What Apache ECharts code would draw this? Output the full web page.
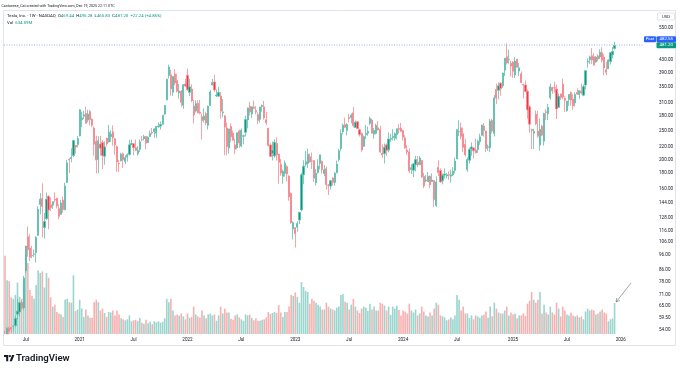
<!DOCTYPE html>
<html>
<head>
<meta charset="utf-8">
<script src="https://cdn.jsdelivr.net/npm/echarts@6/dist/echarts.min.js"></script>
<style>
html,body{margin:0;padding:0;background:#ffffff;}
#chart{width:680px;height:368px;}
</style>
</head>
<body>
<div id="chart"></div>
<script>
// ---- weekly OHLC rows [open, high, low, close], weeks starting Mon 2020-04-27 ----
const ohlc2020 = [
[49.2,53.7,46.1,46.8],[47.0,55.2,45.4,54.6],[54.6,55.4,50.5,53.6],[55.0,55.2,53.0,54.4],[55.6,56.0,53.3,55.7],
[55.9,60.2,55.2,59.0],[61.0,68.5,58.5,62.4],[62.0,67.0,60.0,66.6],[66.7,67.7,63.0,63.9],[64.0,81.9,63.0,80.5],
[85.1,103.2,83.6,102.9],[110.6,119.7,94.8,100.1],[101.3,112.6,91.7,94.5],[95.7,103.1,93.7,95.4],[96.6,100.3,94.7,96.8],
[97.9,111.1,90.7,110.0],[111.8,139.7,111.5,136.7],[141.7,154.5,131.4,147.6],[148.2,166.7,110.0,139.4],[118.7,132.7,109.0,124.2],
[127.0,155.3,126.0,147.4],[151.0,151.9,117.1,135.8],[141.5,149.6,134.7,138.4],[141.1,145.0,136.9,144.7],[147.3,155.3,144.0,146.6],
[148.7,149.0,137.5,140.2],[137.2,141.9,126.4,129.3],[131.3,146.7,130.8,143.3],[146.5,150.8,132.7,136.2],[136.3,167.5,135.3,163.2],
[167.8,199.6,167.0,195.3],[200.7,202.6,180.4,199.7],[201.6,218.1,196.0,203.3],[206.3,231.9,203.5,231.7],[223.0,223.3,209.5,220.6],
[224.8,239.6,219.7,235.2]
];
const ohlc2021 = [
[239.8,294.8,239.1,293.3],[271.5,289.3,256.5,275.4],[279.5,291.0,273.0,282.2],[285.0,300.1,264.0,264.5],[271.0,293.5,266.6,284.1],
[289.3,292.6,260.3,272.0],[272.7,274.8,256.7,260.4],[254.7,258.3,206.3,225.2],[230.0,240.4,179.8,199.3],[200.0,239.3,180.0,231.2],
[225.5,240.0,206.0,218.3],[228.2,232.4,186.0,206.2],[205.3,230.0,192.3,220.6],[235.7,236.9,221.6,225.7],[228.9,261.3,228.3,246.6],
[239.0,250.3,228.7,243.1],[247.6,260.3,222.8,236.5],[234.7,236.1,207.5,224.1],[220.7,223.1,182.3,196.6],[194.0,199.4,181.8,193.6],
[198.2,211.0,197.3,208.4],[209.3,211.2,187.7,199.7],[197.0,206.8,193.3,203.3],[204.0,210.0,197.0,207.8],[208.2,232.7,206.2,224.0],
[224.3,233.3,223.6,226.3],[226.0,226.7,206.7,219.0],[219.1,233.3,213.3,214.7],[209.3,221.6,206.2,214.5],[216.6,233.3,212.0,229.1],
[233.3,240.0,230.3,233.0],[235.0,242.0,232.0,239.1],[238.9,239.0,216.2,226.8],[228.0,239.5,227.3,237.3],[238.7,250.0,238.3,244.5],
[246.7,255.0,242.4,245.4],[248.3,254.6,236.7,253.2],[245.0,258.3,236.1,258.1],[257.5,266.3,255.2,258.4],[258.8,268.0,252.0,261.8],
[262.7,281.4,261.0,281.0],[283.9,303.3,282.0,303.2],[316.8,371.7,315.0,371.3],[381.7,414.5,373.0,407.4],[383.3,399.0,326.8,344.5],
[335.4,379.6,326.7,379.0],[386.5,400.4,354.0,360.6],[367.0,387.0,335.3,338.3],[334.0,357.7,319.7,339.0],[338.1,341.4,300.2,310.9],
[304.0,357.6,295.3,355.7],[357.3,372.3,349.3,352.3]
];
const ohlc2022 = [
[382.6,402.7,339.0,342.3],[335.4,371.9,326.2,349.9],[344.0,356.9,311.2,314.6],[301.7,317.1,264.0,282.1],[290.9,315.7,287.3,307.8],
[307.9,315.9,285.2,286.7],[287.7,316.7,283.0,285.7],[278.0,285.0,233.3,270.0],[271.7,296.6,266.0,279.4],[285.2,288.7,260.4,265.1],
[260.3,302.6,252.0,301.8],[303.3,342.0,301.7,336.9],[355.0,371.6,353.3,361.5],[363.1,384.3,336.6,341.8],[326.7,343.3,324.0,328.3],
[325.7,349.0,324.7,335.0],[326.0,336.2,273.9,290.3],[286.9,318.5,276.7,288.6],[279.7,281.9,206.9,256.5],[255.0,265.8,206.9,221.3],
[218.7,253.5,209.4,253.2],[257.9,264.2,228.4,238.3],[244.7,249.9,231.6,232.2],[223.9,235.1,208.7,216.8],[219.3,246.1,216.4,245.7],
[249.4,252.1,218.9,227.3],[222.0,254.4,220.0,250.8],[239.5,242.6,225.1,240.1],[246.7,280.8,238.9,272.2],[271.3,298.3,254.0,297.2],
[301.3,311.9,281.0,288.2],[284.0,300.3,275.0,300.0],[299.0,314.7,294.3,296.7],[291.9,302.0,283.0,288.1],[282.8,287.7,262.5,270.2],
[272.7,299.8,265.7,299.7],[300.7,305.5,289.3,303.4],[300.1,313.8,271.8,275.3],[271.8,288.5,260.6,265.3],[254.5,255.2,221.2,223.1],
[223.9,226.9,204.2,205.0],[210.0,229.8,198.6,214.4],[205.8,233.8,203.0,228.5],[226.2,237.4,198.6,207.5],[208.7,208.9,166.2,196.0],
[192.8,200.8,176.6,180.2],[175.9,185.2,166.2,182.9],[180.0,198.9,175.3,194.9],[189.4,191.3,169.1,179.1],[176.1,177.4,145.8,150.2],
[154.0,155.3,122.3,123.2],[117.5,124.5,108.2,123.2]
];
const ohlc2023 = [
[118.5,118.8,101.8,113.1],[119.0,124.6,114.9,122.4],[125.7,133.5,121.9,133.4],[135.9,180.7,134.3,177.9],[178.0,199.0,165.6,190.0],
[193.0,214.0,189.4,196.9],[194.4,217.6,187.6,208.3],[204.4,209.7,194.9,196.9],[198.0,211.2,186.0,197.8],[198.5,198.6,168.4,173.4],
[167.5,186.2,163.9,180.1],[180.8,200.7,180.0,190.4],[194.4,207.8,185.4,207.5],[197.3,198.7,179.7,185.1],[179.9,191.6,176.1,185.0],
[186.3,189.7,158.8,165.1],[164.7,165.7,152.4,164.3],[163.2,170.8,158.8,170.1],[173.7,174.6,163.7,168.0],[167.7,181.9,163.8,180.1],
[180.7,198.6,180.3,193.2],[200.1,217.3,196.8,214.0],[217.8,252.4,213.1,244.4],[247.9,263.6,243.0,260.5],[261.5,276.0,254.9,256.6],
[250.1,264.5,240.6,261.8],[276.5,284.3,266.5,274.4],[276.5,285.3,264.6,281.4],[286.6,299.3,255.8,260.0],[255.9,269.9,255.6,266.4],
[267.5,269.1,253.5,253.9],[251.5,253.7,238.8,242.7],[244.8,246.1,212.4,215.5],[221.5,240.8,220.6,238.6],[242.6,261.2,234.0,245.0],
[245.0,258.0,240.0,248.5],[264.3,278.4,260.6,274.4],[271.2,273.9,244.5,244.9],[243.4,254.8,234.6,250.2],[244.8,263.6,242.6,260.5],
[255.3,268.9,250.5,251.1],[252.3,259.4,210.4,212.0],[210.0,224.8,202.5,207.3],[209.3,226.4,194.1,220.0],[224.0,226.3,205.7,214.7],
[215.6,246.7,211.6,234.3],[234.0,244.0,229.2,235.5],[236.9,252.8,231.9,238.8],[235.8,246.7,231.3,243.8],[242.7,254.0,233.5,253.5],
[253.8,262.5,244.4,252.5],[254.5,265.1,247.4,248.5]
];
const ohlc2024 = [
[250.1,251.3,231.7,237.5],[236.1,241.3,217.2,218.9],[215.1,223.5,207.6,212.2],[212.3,217.8,180.1,183.3],[185.6,193.0,179.0,187.9],
[184.3,194.1,175.0,193.6],[192.1,205.6,182.6,200.0],[196.1,205.6,188.8,192.0],[192.3,205.6,192.0,202.6],[198.7,198.7,173.7,175.3],
[175.5,180.5,160.5,163.6],[170.0,177.7,168.1,170.8],[168.8,181.9,168.5,175.8],[176.2,176.8,160.5,164.9],[169.1,180.0,168.3,171.1],
[170.2,170.7,138.8,147.1],[140.6,176.0,138.8,168.3],[188.4,198.9,176.2,181.2],[183.8,187.0,167.5,168.5],[170.0,179.6,165.3,177.5],
[177.6,186.9,172.8,179.2],[176.4,180.3,173.1,178.1],[178.1,182.6,171.2,177.5],[176.1,185.1,167.4,178.0],[177.9,188.8,176.4,183.0],
[184.2,203.2,180.0,197.9],[201.0,252.4,200.9,251.5],[247.7,271.0,239.6,248.2],[255.3,266.0,233.7,239.2],[244.2,255.8,212.1,219.8],
[224.9,234.7,205.0,207.7],[185.2,203.5,182.0,200.0],[199.0,219.5,194.1,216.1],[217.1,228.2,206.1,220.3],[218.8,219.1,201.8,214.1],
[215.3,235.0,209.4,210.7],[216.2,232.7,210.6,230.3],[229.3,244.2,224.0,238.3],[241.2,261.8,240.0,260.5],[259.0,264.9,238.5,250.1],
[249.0,249.8,212.1,217.8],[220.1,224.7,213.9,220.7],[218.9,273.5,212.1,269.2],[270.0,273.5,244.4,249.0],[244.6,328.7,238.9,321.2],
[342.7,358.6,306.3,320.7],[340.7,361.9,317.6,352.6],[360.1,361.9,326.6,345.2],[352.4,389.5,347.2,389.2],[397.6,436.3,380.5,436.2],
[441.1,488.5,415.4,421.1],[431.0,465.3,418.0,431.7],[419.4,427.0,379.0,410.4]
];
const ohlc2025 = [
[423.2,426.4,375.0,394.7],[383.2,439.7,374.4,426.5],[432.6,433.2,406.1,406.6],[394.8,420.0,380.0,404.6],[386.7,394.0,360.3,361.6],
[356.2,359.1,320.0,355.8],[355.0,367.3,336.0,337.8],[338.1,342.4,273.6,293.0],[300.3,303.9,246.0,262.7],[252.5,253.4,217.0,250.0],
[245.1,253.4,217.0,248.7],[283.6,291.9,260.6,263.6],[249.3,290.9,236.5,239.4],[223.8,274.7,214.3,252.3],[258.4,261.5,239.3,241.4],
[230.3,286.9,222.8,285.0],[289.0,294.9,270.8,287.2],[284.6,307.0,271.0,298.3],[321.8,358.8,317.2,350.0],[347.9,350.0,331.3,339.3],
[347.4,363.8,334.4,346.5],[343.5,355.4,273.2,295.1],[298.8,332.6,298.4,325.3],[331.3,332.0,316.0,322.2],[357.0,373.0,318.0,323.6],
[319.9,325.6,288.8,315.4],[291.4,314.1,288.8,313.5],[317.7,330.9,302.4,329.7],[334.4,338.0,302.2,316.1],[318.4,330.5,293.2,302.6],
[309.1,335.2,300.4,329.7],[335.0,346.0,329.5,330.6],[329.6,340.6,319.0,340.0],[338.9,358.9,330.0,333.9],[328.2,355.9,325.6,350.8],
[354.6,396.7,342.8,395.9],[423.1,435.0,405.4,426.1],[431.1,445.0,416.6,440.4],[444.3,470.8,416.6,429.8],[440.8,453.5,411.5,413.5],
[423.5,443.1,421.5,439.3],[443.9,449.4,425.6,433.7],[440.0,467.0,432.5,456.6],[454.5,474.1,421.9,429.5],[439.6,449.7,382.8,404.4],
[398.7,424.0,382.8,391.1],[402.0,432.9,401.8,430.2],[425.0,457.5,415.0,455.0],[448.0,475.0,435.0,458.96],[469.44,495.28,465.83,481.20]
];

// ---- weekly volume (millions of shares) ----
const vol2020 = [1600,1100,1080,750,720,800,1050,760,720,1100,1650,1450,900,780,720,1000,1300,1250,1280,950,1250,1150,750,560,600,450,420,400,350,700,720,650,640,1200,470,500];
const vol2021 = [700,520,350,500,380,330,330,650,700,650,480,520,430,350,450,440,480,380,480,400,320,300,280,300,380,260,280,290,260,330,230,210,290,220,250,200,260,240,260,230,250,320,720,650,720,480,380,400,380,420,360,300];
const vol2022 = [420,330,350,560,400,360,330,480,380,320,400,420,380,400,270,380,560,420,520,440,440,310,290,380,400,340,300,270,400,380,400,330,280,320,270,270,290,300,340,450,410,430,450,430,590,440,350,450,450,560,800,780];
const vol2023 = [850,760,640,1060,960,880,860,620,720,680,640,600,560,500,500,640,560,520,500,480,540,560,800,820,660,640,500,600,720,560,480,430,520,560,540,470,620,500,560,480,480,640,620,580,480,560,390,560,520,580,490,380];
const vol2024 = [480,460,420,620,480,440,500,380,420,560,460,380,360,440,380,520,640,600,380,360,340,280,300,340,300,380,800,700,480,560,420,420,330,380,300,380,360,330,380,400,460,330,560,360,640,520,440,420,420,480,560,380,440];
const vol2025 = [400,420,320,380,380,420,370,620,680,860,700,640,700,860,420,600,440,400,560,440,400,640,520,360,560,480,400,380,440,380,360,380,340,360,300,460,520,480,500,480,400,420,460,500,440,420,260,300,320,634.09];

// ---- axis tick labels ----
const xTickDates = ['2020-07-06','2021-01-04','2021-07-05','2022-01-03','2022-07-04','2023-01-02','2023-07-03','2024-01-01','2024-07-01','2025-01-06','2025-07-07','2026-01-05'];
const xTickTexts = ['Jul','2021','Jul','2022','Jul','2023','Jul','2024','Jul','2025','Jul','2026'];
const yTickValues = [550,430,390,350,310,280,250,220,200,180,160,144,128,116,106,96,86,78,71,65,59.5,54];
const postPrice = 482.55;

// ---- build ----
const FONT = 'Roboto, "Noto Sans", "DejaVu Sans", sans-serif';
const UP = '#089981', DOWN = '#f23645';
const UP_WICK = '#5fbfae', DOWN_WICK = '#f58a91';
const UP_VOL = '#9ad5ce', DOWN_VOL = '#f8b1b0';
const TXT = '#131722';

const rows = [].concat(ohlc2020, ohlc2021, ohlc2022, ohlc2023, ohlc2024, ohlc2025);
const volumes = [].concat(vol2020, vol2021, vol2022, vol2023, vol2024, vol2025);
const SLOTS = 314;
const startUTC = Date.UTC(2020, 3, 27);
const categories = [];
for (let i = 0; i < SLOTS; i++) {
  categories.push(new Date(startUTC + i * 7 * 86400000).toISOString().slice(0, 10));
}
const tickMap = {};
xTickDates.forEach((d, i) => { tickMap[d] = xTickTexts[i]; });

const candleData = rows.map(r => [r[0], r[3], r[2], r[1]]);
const volData = volumes.map((v, i) => ({
  value: v,
  itemStyle: { color: (rows[i] && rows[i][3] >= rows[i][0]) ? UP_VOL : DOWN_VOL }
}));

const chart = echarts.init(document.getElementById('chart'), null, { renderer: 'canvas' });
const GL = 4, GR = 25, GT = 10, GB = 34;
chart.setOption({
  animation: false,
  backgroundColor: '#ffffff',
  grid: [
    { left: GL, right: GR, top: GT, bottom: GB },
    { left: GL, right: GR, top: 234, bottom: GB }
  ],
  xAxis: [
    { type: 'category', data: categories, gridIndex: 0, boundaryGap: true, z: 20,
      axisLine: { show: false }, axisTick: { show: false }, splitLine: { show: false },
      axisLabel: { show: true, interval: (i, v) => tickMap[v] !== undefined,
        formatter: v => tickMap[v] || '', fontSize: 4.6, color: TXT, margin: 3.5, fontFamily: FONT } },
    { type: 'category', data: categories, gridIndex: 1, boundaryGap: true,
      axisLine: { show: false }, axisTick: { show: false }, axisLabel: { show: false }, splitLine: { show: false } }
  ],
  yAxis: [
    { type: 'log', logBase: 10, min: 52.36, max: 631.5, position: 'right', gridIndex: 0,
      axisLine: { show: false }, axisTick: { show: false }, axisLabel: { show: false }, splitLine: { show: false } },
    { type: 'value', min: 0, max: 2045, gridIndex: 1, show: false, splitLine: { show: false } }
  ],
  series: [
    { type: 'bar', xAxisIndex: 1, yAxisIndex: 1, data: volData, barCategoryGap: '22%', z: 1, silent: true },
    { type: 'candlestick', xAxisIndex: 0, yAxisIndex: 0, data: candleData, barWidth: 1.7, z: 3, silent: true, clip: true,
      itemStyle: { color: UP, color0: DOWN, borderColor: UP_WICK, borderColor0: DOWN_WICK, borderWidth: 0.8 } }
  ]
});

// ---- overlay text & annotations ----
function txt(x, y, text, size, fill, align, extra) {
  return Object.assign({
    type: 'text', x: x, y: y, silent: true, z: 10,
    style: { text: text, fontSize: size, fontFamily: FONT, fill: fill,
      align: align || 'left', verticalAlign: 'middle',
      textAlign: align || 'left', textVerticalAlign: 'middle' }
  }, extra || {});
}
const yPix = v => chart.convertToPixel({ yAxisIndex: 0 }, v);
const g = [];
// mask candle overflow below the price pane
g.push({ type: 'rect', silent: true, z: 8, shape: { x: 3, y: 334.2, width: 653, height: 28 }, style: { fill: '#ffffff' } });
// panel border
g.push({ type: 'rect', shape: { x: 3.5, y: 10.5, width: 672, height: 335 }, silent: true, z: 9,
  style: { fill: 'none', stroke: '#e0e3eb', lineWidth: 1 } });
// post-market price line (dotted)
const yPostLine = yPix(postPrice);
g.push({ type: 'line', silent: true, z: 6, shape: { x1: GL, y1: yPostLine, x2: 644, y2: yPostLine },
  style: { stroke: '#8fb3f5', lineWidth: 1, lineDash: [1, 1.5] } });
// price scale labels
yTickValues.forEach(v => g.push(txt(659, yPix(v), v.toFixed(2), 4.6, TXT, 'left')));
// USD box
g.push({ type: 'rect', shape: { x: 657.5, y: 13, width: 17, height: 7, r: 1 }, silent: true, z: 10,
  style: { fill: '#ffffff', stroke: '#d1d4dc', lineWidth: 0.6 } });
g.push(txt(666, 16.6, 'USD', 4.2, TXT, 'center', { z: 11 }));
// last / post labels
const last = rows[rows.length - 1];
const prevClose = rows[rows.length - 2][3];
const yLast = yPix(last[3]);
g.push({ type: 'rect', shape: { x: 656.5, y: yLast - 3, width: 19.5, height: 6, r: 1 }, silent: true, z: 10, style: { fill: UP } });
g.push(txt(666.2, yLast, last[3].toFixed(2), 4.4, '#ffffff', 'center', { z: 11 }));
const yPost = yLast - 6.2;
g.push({ type: 'rect', shape: { x: 656.5, y: yPost - 3, width: 19.5, height: 6, r: 1 }, silent: true, z: 10, style: { fill: '#2962ff' } });
g.push(txt(666.2, yPost, postPrice.toFixed(2), 4.4, '#ffffff', 'center', { z: 11 }));
g.push({ type: 'rect', shape: { x: 644, y: yPost - 3, width: 12, height: 6, r: 1 }, silent: true, z: 10, style: { fill: '#2962ff' } });
g.push(txt(650, yPost, 'Post', 4.2, '#ffffff', 'center', { z: 11 }));
// header lines
g.push(txt(1.5, 5.8, 'Cantonese_Cat created with TradingView.com, Dec 19, 2025 22:11 UTC', 3.6, TXT, 'left'));
const chg = last[3] - prevClose;
const pct = chg / prevClose * 100;
const hdr = '{t|Tesla, Inc. · 1W · NASDAQ}  {k|O}{v|' + last[0].toFixed(2) + '}  {k|H}{v|' + last[1].toFixed(2) +
  '}  {k|L}{v|' + last[2].toFixed(2) + '}  {k|C}{v|' + last[3].toFixed(2) + '}  {v|+' + chg.toFixed(2) + ' (+' + pct.toFixed(2) + '%)}';
g.push({ type: 'text', x: 7, y: 15.8, silent: true, z: 10,
  style: { text: hdr, fontSize: 4.3, fontFamily: FONT, fill: TXT, verticalAlign: 'middle', textVerticalAlign: 'middle',
    rich: { t: { fill: TXT, color: TXT, fontSize: 4.3, fontFamily: FONT },
            k: { fill: TXT, color: TXT, fontSize: 4.3, fontFamily: FONT },
            v: { fill: UP, color: UP, fontSize: 4.3, fontFamily: FONT } } } });
const lastVol = volumes[volumes.length - 1];
g.push({ type: 'text', x: 7, y: 22.8, silent: true, z: 10,
  style: { text: '{k|Vol}  {v|' + lastVol.toFixed(2) + 'M}', fontSize: 4.3, fontFamily: FONT, fill: TXT,
    verticalAlign: 'middle', textVerticalAlign: 'middle',
    rich: { k: { fill: TXT, color: TXT, fontSize: 4.3, fontFamily: FONT },
            v: { fill: UP, color: UP, fontSize: 4.3, fontFamily: FONT } } } });
// arrow pointing at last volume bar
const head = chart.convertToPixel({ xAxisIndex: 1, yAxisIndex: 1 }, [volumes.length - 1, lastVol]);
const hx = head[0] + 1.5, hy = head[1] - 1;
const tx = hx + 15, ty = hy - 19;
const len = Math.hypot(tx - hx, ty - hy), ux = (tx - hx) / len, uy = (ty - hy) / len;
const rot = (a) => [hx + 4 * (ux * Math.cos(a) - uy * Math.sin(a)), hy + 4 * (ux * Math.sin(a) + uy * Math.cos(a))];
g.push({ type: 'line', silent: true, z: 10, shape: { x1: tx, y1: ty, x2: hx, y2: hy }, style: { stroke: '#787b86', lineWidth: 0.7 } });
g.push({ type: 'polyline', silent: true, z: 10, shape: { points: [rot(0.5), [hx, hy], rot(-0.5)] }, style: { stroke: '#787b86', lineWidth: 0.7, fill: 'none' } });
// TradingView logo + wordmark
g.push({ type: 'rect', silent: true, z: 10, shape: { x: 4, y: 355, width: 4.2, height: 2 }, style: { fill: TXT } });
g.push({ type: 'rect', silent: true, z: 10, shape: { x: 6.2, y: 355, width: 2, height: 6.3 }, style: { fill: TXT } });
g.push({ type: 'circle', silent: true, z: 10, shape: { cx: 9.9, cy: 356.1, r: 1.1 }, style: { fill: TXT } });
g.push({ type: 'polygon', silent: true, z: 10, shape: { points: [[9.6, 361.3], [11.9, 361.3], [14.4, 355], [12.1, 355]] }, style: { fill: TXT } });
g.push({ type: 'text', x: 16, y: 358.4, silent: true, z: 10,
  style: { text: 'TradingView', fontSize: 9.6, fontWeight: 600, fontFamily: FONT, fill: TXT,
    verticalAlign: 'middle', textVerticalAlign: 'middle' } });

chart.setOption({ graphic: { elements: g } });
</script>
</body>
</html>
